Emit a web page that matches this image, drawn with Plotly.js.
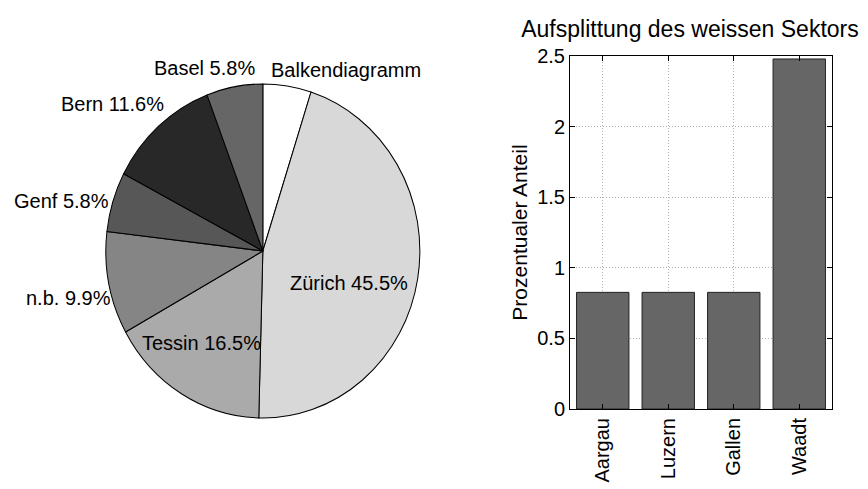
<!DOCTYPE html>
<html><head><meta charset="utf-8">
<script src="https://cdn.plot.ly/plotly-3.0.1.min.js"></script>
<style>body{margin:0;background:#fff}#c{width:868px;height:489px}</style>
</head><body><div id="c"></div>
<script>
// Pie data (counts)
const pieLabels = ["Balkendiagramm","Zürich","Tessin","n.b.","Genf","Bern","Basel"];
const pieValues = [6,55,20,12,7,14,7];
const pieColors = ["#ffffff","#d8d8d8","#aaaaaa","#858585","#575757","#282828","#666666"];
// Bar data
const barCats = ["Aargau","Luzern","Gallen","Waadt"];
const barValues = [0.826,0.826,0.826,2.479];

const total = pieValues.reduce((a,b)=>a+b,0);
const pct = pieValues.map(v => (100*v/total).toFixed(1) + "%");
const pieText = pieLabels.map((l,i)=> i===0 ? l : l + " " + pct[i]);

const F = "Liberation Sans, Arial, sans-serif";
const W = 868, H = 489;
const px = x => x/W, py = y => 1 - y/H;

const labelPos = [[346,70],[349,283],[201,343],[68,298],[61,201],[112,104],[204,68]];
const annotations = pieText.map((t,i)=>({
  text: t, x: px(labelPos[i][0]), y: py(labelPos[i][1]), xref:"paper", yref:"paper",
  showarrow:false, xanchor:"center", yanchor:"middle", font:{family:F,size:20,color:"#000"}
}));

const data = [
  {type:"pie", labels:pieLabels, values:pieValues, sort:false, direction:"clockwise", rotation:0,
   marker:{colors:pieColors, line:{color:"#000", width:1}}, textinfo:"none", hoverinfo:"label+percent",
   domain:{x:[px(105.7),px(420)], y:[py(408),py(94)]}, showlegend:false},
  {type:"bar", x:barCats, y:barValues, width:0.8, marker:{color:"#666666", line:{color:"#222", width:1}},
   xaxis:"x", yaxis:"y", showlegend:false}
];

const grid = {showgrid:true, gridcolor:"#b4b4b4", griddash:"1px,2px", gridwidth:1};
const layout = {
  width:W, height:H, margin:{l:0,r:0,t:0,b:0}, paper_bgcolor:"#fff", plot_bgcolor:"#fff",
  font:{family:F, size:20, color:"#000"},
  title:{text:"Aufsplittung des weissen Sektors", x:px(690), xanchor:"center", y:py(29), yanchor:"middle",
         font:{family:F,size:23,color:"#000"}},
  xaxis:Object.assign({domain:[px(570),px(832)], range:[-0.5,3.5], showline:true, linecolor:"#000", linewidth:1, mirror:"ticks",
         ticks:"inside", ticklen:5, tickcolor:"#000", tickangle:-90, tickfont:{family:F,size:20}, zeroline:false}, grid),
  yaxis:Object.assign({domain:[py(409),py(56)], range:[0,2.5], dtick:0.5, showline:true, linecolor:"#000", linewidth:1, mirror:"ticks",
         ticks:"inside", ticklen:5, tickcolor:"#000", tickfont:{family:F,size:20}, zeroline:false, tickformat:"~g",
         title:{text:"Prozentualer Anteil", font:{family:F,size:21}, standoff:3}}, grid),
  annotations: annotations
};
Plotly.newPlot("c", data, layout, {staticPlot:true, displayModeBar:false}).then(gd => {
  // slight vertical stretch of the pie to match the reference's elliptical aspect
  const cx = 262.85, cy = 251, sy = 167/157;
  const pl = gd.querySelector(".pielayer");
  if (pl) pl.setAttribute("transform", `translate(${cx},${cy}) scale(1,${sy}) translate(${-cx},${-cy})`);
});
</script></body></html>
